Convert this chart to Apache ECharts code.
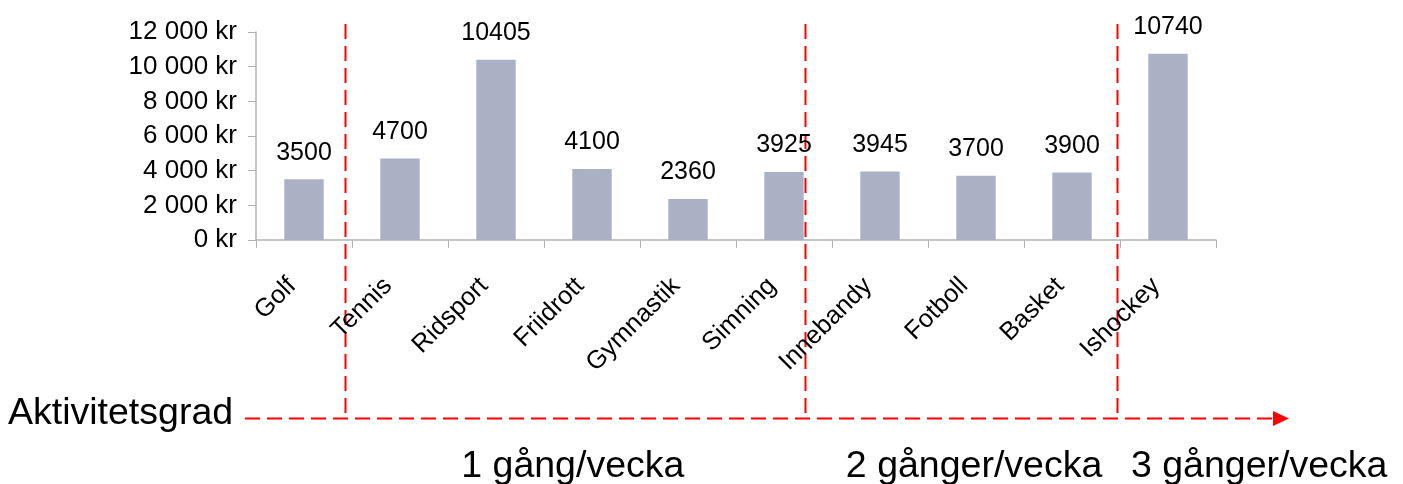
<!DOCTYPE html>
<html><head><meta charset="utf-8">
<script src="https://cdn.jsdelivr.net/npm/echarts@6/dist/echarts.min.js"></script>
<style>html,body{margin:0;padding:0;background:#fff}#c{width:1403px;height:484px}</style>
</head><body><div id="c"></div>
<script>
// ---- data ----
const categories = ['Golf','Tennis','Ridsport','Friidrott','Gymnastik','Simning','Innebandy','Fotboll','Basket','Ishockey'];
const costs = [3500,4700,10405,4100,2360,3925,3945,3700,3900,10740];
const axisTitle = 'Aktivitetsgrad';
const groupLabels = ['1 gång/vecka','2 gånger/vecka','3 gånger/vecka'];

// ---- layout (annotation placement, in category units from the axis start) ----
const dividerAt = [0.93, 5.72, 8.97];
const groupLabelAt = [3.30, 7.48, 10.45];

const FONT = '"Liberation Sans", Arial, sans-serif';
const RED = '#ff0000';
const chart = echarts.init(document.getElementById('c'), null, {renderer:'canvas'});

function fmt(v){ return String(v).replace(/\B(?=(\d{3})+(?!\d))/g,' ') + ' kr'; }

chart.setOption({
  animation:false,
  grid:{left:256, right:187, top:32, bottom:244, containLabel:false},
  xAxis:{
    type:'category', data:categories,
    axisLine:{lineStyle:{color:'#b3b3b3', width:1.5}},
    axisTick:{show:true, length:8, interval:0, lineStyle:{color:'#b3b3b3'}},
    axisLabel:{interval:0, rotate:45, margin:30, padding:[0,17,0,0], color:'#000', fontSize:25.5, fontFamily:FONT}
  },
  yAxis:{
    type:'value', min:0, max:12000, interval:2000,
    axisLine:{show:true, lineStyle:{color:'#b3b3b3', width:1.5}},
    axisTick:{show:true, length:8, lineStyle:{color:'#b3b3b3'}},
    splitLine:{show:false},
    axisLabel:{margin:19, color:'#000', fontSize:26, fontFamily:FONT, formatter:fmt}
  },
  series:[{
    type:'bar', data:costs, barCategoryGap:'59%',
    itemStyle:{color:'#abb1c5'},
    label:{show:true, position:'top', distance:14, color:'#000', fontSize:25, fontFamily:FONT}
  }]
});

// annotations positioned through the category axis scale
const c0 = chart.convertToPixel({xAxisIndex:0}, 0);
const band = chart.convertToPixel({xAxisIndex:0}, 1) - c0;
const xStart = c0 - band/2;
const toX = u => xStart + u*band;
const arrowY = 418.5, lineTop = 24;
const dash = [15,7];
const g = [];
dividerAt.forEach(u => {
  const x = Math.round(toX(u)) + 0.5;
  g.push({type:'line', shape:{x1:x, y1:lineTop, x2:x, y2:arrowY}, style:{stroke:RED, lineWidth:2, lineDash:dash}, silent:true});
});
g.push({type:'line', shape:{x1:245, y1:arrowY, x2:1274, y2:arrowY}, style:{stroke:RED, lineWidth:2, lineDash:dash}, silent:true});
g.push({type:'polygon', shape:{points:[[1273,411],[1289,arrowY],[1273,426]]}, style:{fill:RED}, silent:true});
g.push({type:'text', left:8, top:395, style:{text:axisTitle, font:'37.5px '+FONT, fill:'#000'}});
groupLabels.forEach((t,i) => {
  g.push({type:'text', x:toX(groupLabelAt[i]), y:467, style:{text:t, font:'37.5px '+FONT, fill:'#000', textAlign:'center', textVerticalAlign:'middle'}});
});
chart.setOption({graphic:g});
</script>
</body></html>
